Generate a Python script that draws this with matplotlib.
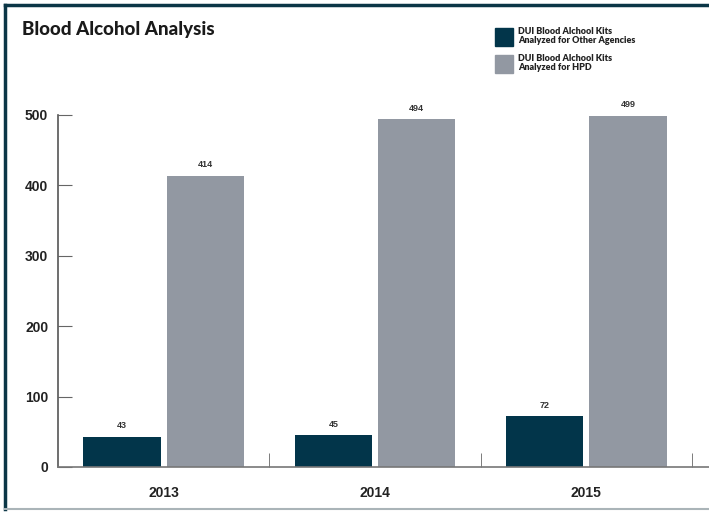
import matplotlib.pyplot as plt
import numpy as np
from matplotlib.lines import Line2D
from matplotlib.patches import Rectangle

years = ["2013", "2014", "2015"]
other_agencies = [43, 45, 72]
hpd = [414, 494, 499]
legend_labels = ["DUI Blood Alchool Kits\nAnalyzed for Other Agencies",
                 "DUI Blood Alchool Kits\nAnalyzed for HPD"]

dark = "#02354A"
grey = "#9298A2"
plt.rcParams['font.family'] = ['Liberation Sans', 'DejaVu Sans']
heading = ['Lato', 'DejaVu Sans']

fig = plt.figure(figsize=(7.09, 5.12), dpi=100)
W, H = 709, 512
ax = fig.add_axes([58 / W, 45 / H, 652 / W, 352 / H])

x = np.arange(len(years))
w = 0.365
off = 0.197
b1 = ax.bar(x - off, other_agencies, w, color=dark)
b2 = ax.bar(x + off, hpd, w, color=grey)

for bars, vals in ((b1, other_agencies), (b2, hpd)):
    for r, v in zip(bars, vals):
        ax.text(r.get_x() + r.get_width() / 2, v + 9, str(v), ha="center",
                va="bottom", fontsize=6.5, fontweight="bold", color="#333333")

ax.set_xlim(-0.5, 2.585)
ax.set_ylim(0, 500)
ax.set_yticks([0, 100, 200, 300, 400, 500])
ax.set_xticks(x)
ax.set_xticklabels(years)
ax.set_xticks([0.5, 1.5, 2.5], minor=True)
ax.tick_params(axis="x", which="major", length=0, pad=14, labelsize=10)
ax.tick_params(axis="x", which="minor", length=10, direction="in", color="#666666")
ax.tick_params(axis="y", length=10, direction="in", pad=7, labelsize=10, color="#666666")
for lab in ax.get_xticklabels() + ax.get_yticklabels():
    lab.set_fontweight("bold")
    lab.set_color("#222222")

for s in ("top", "right"):
    ax.spines[s].set_visible(False)
ax.spines["left"].set_color("#555555")
ax.spines["bottom"].set_color("#777777")
ax.spines["left"].set_linewidth(1.2)
ax.spines["bottom"].set_linewidth(1.2)

# title
fig.text(22 / W, 1 - 30 / H, "Blood Alcohol Analysis", fontsize=13.5,
         fontweight="black", family=heading, color="#1a1a1a", va="center")

# legend swatches with two-line labels
for i, (c, lab) in enumerate(zip([dark, grey], legend_labels)):
    y0 = 28 + i * 27
    fig.add_artist(Rectangle((495 / W, 1 - (y0 + 18) / H), 18 / W, 18 / H,
                             transform=fig.transFigure, color=c))
    fig.text(518 / W, 1 - (y0 - 1) / H, lab, fontsize=6.5, fontweight="heavy",
             family=heading, color="#222222", va="top", linespacing=1.0)

# page frame
fig.add_artist(Line2D([5 / W, 1], [1 - 5 / H, 1 - 5 / H], color="#0b3646", lw=2.5))
fig.add_artist(Line2D([5 / W, 5 / W], [1 - 5 / H, 3 / H], color="#0b3646", lw=2.5))
fig.add_artist(Line2D([5 / W, 1], [3 / H, 3 / H], color="#aab4b8", lw=1.5))

fig.savefig("out.png", dpi=100)
